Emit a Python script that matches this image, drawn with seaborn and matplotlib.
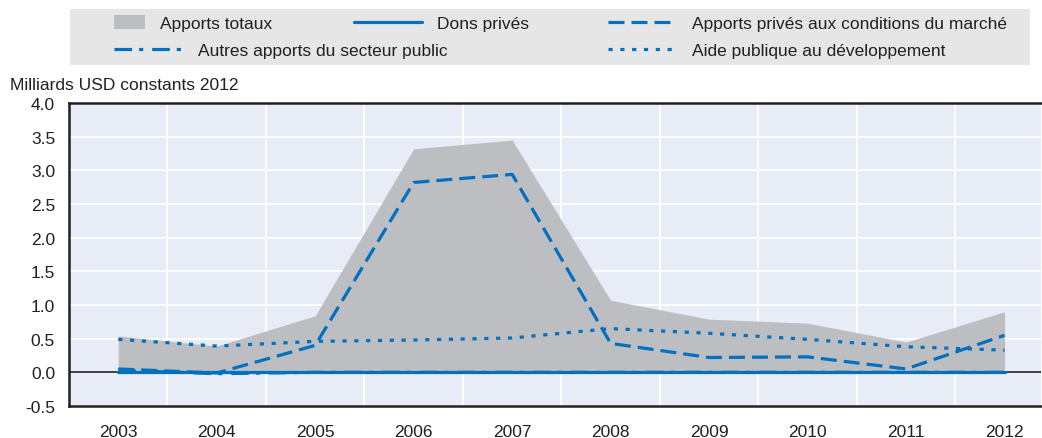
import matplotlib
matplotlib.use("Agg")
import matplotlib.pyplot as plt
import seaborn as sns
import pandas as pd
import numpy as np
from matplotlib.patches import Patch, Rectangle
from matplotlib.lines import Line2D

years = ["2003", "2004", "2005", "2006", "2007", "2008", "2009", "2010", "2011", "2012"]
apports_totaux = [0.54, 0.39, 0.84, 3.32, 3.45, 1.07, 0.79, 0.73, 0.45, 0.90]
dons_prives = [0.01, 0.01, 0.01, 0.01, 0.01, 0.01, 0.01, 0.01, 0.01, 0.01]
apports_marche = [0.05, -0.01, 0.40, 2.82, 2.94, 0.43, 0.22, 0.23, 0.05, 0.55]
autres_public = [0.03, -0.02, 0.0, 0.0, 0.0, 0.0, 0.0, 0.0, 0.0, 0.0]
apd = [0.49, 0.39, 0.46, 0.48, 0.51, 0.65, 0.58, 0.49, 0.38, 0.33]
yticks = [-0.5, 0.0, 0.5, 1.0, 1.5, 2.0, 2.5, 3.0, 3.5, 4.0]
legend_labels = ["Apports totaux", "Dons privés", "Apports privés aux conditions du marché",
                 "Autres apports du secteur public", "Aide publique au développement"]

sns.set_style("white")
plt.rcParams['font.family'] = ['Liberation Sans', 'DejaVu Sans']

BLUE = "#0070C0"
GREY = "#BDBEC2"
BG = "#E8ECF6"
TXT = "#231F20"
LW = 2.3
DASHDOT = (0, (5.5, 2.2, 1.3, 2.8))
DASHED = (0, (5, 2.2))
DOTTED = (0, (1.3, 2.4))
FS = 12.5

fig = plt.figure(figsize=(10.42, 4.39), dpi=100)
ax = fig.add_axes([69/1042, 1-407/439, (1041-69)/1042, (407-104)/439])
ax.set_facecolor(BG)

x = np.arange(len(years))
df = pd.DataFrame({"x": x, "tot": apports_totaux, "dons": dons_prives,
                   "marche": apports_marche, "autres": autres_public, "apd": apd})

ax.fill_between(df["x"], 0, df["tot"], color=GREY, linewidth=0, zorder=2)
ax.axhline(0, color=TXT, lw=1.2, zorder=2.5)
sns.lineplot(data=df, x="x", y="dons", ax=ax, color=BLUE, lw=LW, zorder=3)
sns.lineplot(data=df, x="x", y="autres", ax=ax, color=BLUE, lw=LW, zorder=3,
             linestyle=DASHDOT)
sns.lineplot(data=df, x="x", y="marche", ax=ax, color=BLUE, lw=LW, zorder=3,
             linestyle=DASHED)
sns.lineplot(data=df, x="x", y="apd", ax=ax, color=BLUE, lw=LW, zorder=3,
             linestyle=DOTTED)

ax.set_yticks(yticks)
ax.set_yticklabels([f"{v:.1f}" for v in yticks], fontsize=FS, color=TXT)
ax.set_xticks(x)
ax.set_xticklabels(years, fontsize=FS, color=TXT)
ax.set_xticks(np.arange(0.5, 9.0, 1), minor=True)
ax.tick_params(axis="x", which="major", length=0, pad=13)
ax.tick_params(axis="x", which="minor", direction="in", length=6, width=1, color="#555555")
ax.tick_params(axis="y", which="major", direction="in", length=6, width=1, color="#555555", pad=10)
ax.grid(False)
for v in yticks:
    ax.axhline(v, color="white", lw=1.3, zorder=1)
for v in np.arange(0.5, 9.0, 1):
    ax.axvline(v, color="white", lw=1.3, zorder=1)
ax.set_xlabel("")
ax.set_ylabel("")
for s in ["left", "bottom", "top"]:
    ax.spines[s].set_color(TXT)
    ax.spines[s].set_linewidth(1.8)
ax.spines["right"].set_visible(False)
ax.set_xlim(-0.5, 9.37)
ax.set_ylim(-0.5, 4.0)

fig.text(10/1042, 1-85/439, "Milliards USD constants 2012", fontsize=FS, color=TXT,
         va="center", ha="left")

# legend background
fig.add_artist(Rectangle((70/1042, 1-66/439), 960/1042, 56/439, transform=fig.transFigure,
                         facecolor="#E6E6E6", edgecolor="none", zorder=0))

px = FS * 100 / 72.0
entries = [
    (Patch(facecolor=GREY, edgecolor="none"), legend_labels[0], 114, 24, 31, 15),
    (Line2D([], [], color=BLUE, lw=LW), legend_labels[1], 354, 24, 68, 15),
    (Line2D([], [], color=BLUE, lw=LW, linestyle=DASHED), legend_labels[2], 608, 24, 69, 15),
    (Line2D([], [], color=BLUE, lw=LW, linestyle=DASHDOT), legend_labels[3], 114, 51, 67, 17),
    (Line2D([], [], color=BLUE, lw=LW, linestyle=DOTTED), legend_labels[4], 608, 51, 69, 15),
]
for h, lab, lx, ly, hl, gap in entries:
    leg = fig.legend([h], [lab], loc="center left", bbox_to_anchor=(lx/1042, 1-ly/439),
                     frameon=False, fontsize=FS, handlelength=hl/px, handleheight=15/px,
                     handletextpad=gap/px, borderpad=0, borderaxespad=0)
    for t in leg.get_texts():
        t.set_color(TXT)

fig.savefig("out.png", dpi=100)
